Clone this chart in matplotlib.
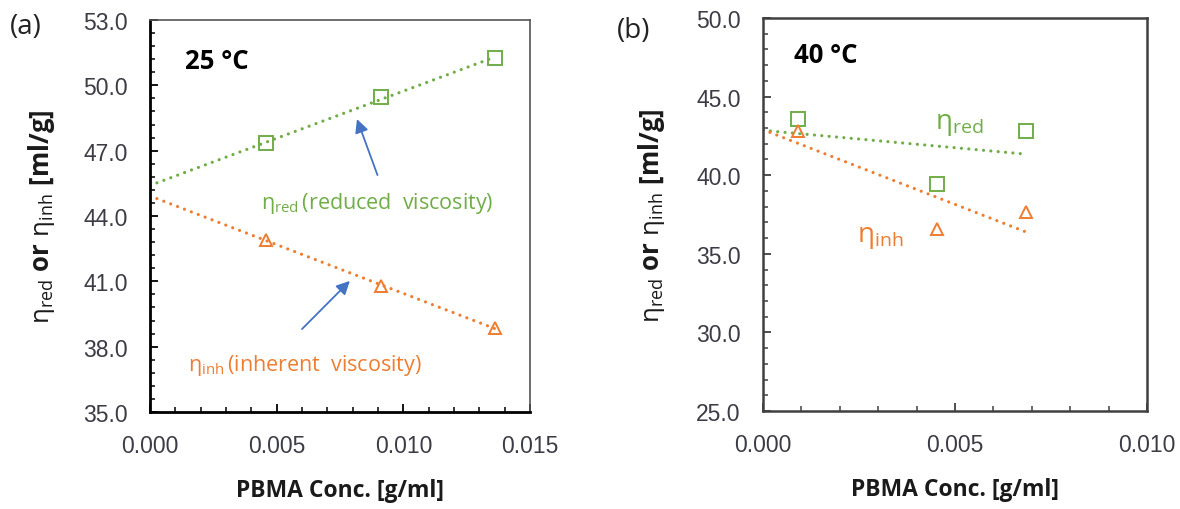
import numpy as np
import matplotlib
matplotlib.use("Agg")
import matplotlib.pyplot as plt
from matplotlib.ticker import FixedLocator, FormatStrFormatter

# Reduced / inherent viscosity of PBMA solutions
conc_25 = [0.00457, 0.00910, 0.01362]
eta_red_25 = [47.33, 49.45, 51.25]
eta_inh_25 = [42.90, 40.80, 38.85]

conc_40 = [0.00091, 0.00454, 0.00685]
eta_red_40 = [43.60, 39.41, 42.83]
eta_inh_40 = [42.82, 36.55, 37.63]

GREEN = "#70AD47"
ORANGE = "#ED7D31"
BLUE = "#4472C4"
TICK_COL = "#3c3c46"

plt.rcParams["font.family"] = ["Liberation Sans", "DejaVu Sans"]
plt.rcParams["mathtext.fontset"] = "custom"
plt.rcParams["mathtext.rm"] = "Open Sans"
plt.rcParams["mathtext.bf"] = "Open Sans:bold"
plt.rcParams["mathtext.it"] = "Open Sans:italic"
plt.rcParams["mathtext.sf"] = "Open Sans"

fig = plt.figure(figsize=(11.8, 5.1), dpi=100)
ax1 = fig.add_axes([150 / 1180, 1 - 413 / 510, 380 / 1180, 392 / 510])
ax2 = fig.add_axes([763 / 1180, 1 - 412 / 510, 384 / 1180, 393 / 510])

DOTS = (0, (0.01, 2.3))


def fit_line(ax, x, y, color):
    slope, icpt = np.polyfit(x, y, 1)
    xs = np.array([0.0, max(x)])
    ax.plot(xs, icpt + slope * xs, linestyle=DOTS, color=color, lw=2.3,
            dash_capstyle="round", zorder=2)


def draw_series(ax, x, red, inh):
    fit_line(ax, x, red, GREEN)
    fit_line(ax, x, inh, ORANGE)
    ax.plot(x, red, linestyle="none", marker="s", ms=9.8, mfc="none",
            mec=GREEN, mew=1.4, zorder=3)
    ax.plot(x, inh, linestyle="none", marker="^", ms=8.5, mfc="none",
            mec=ORANGE, mew=1.4, zorder=3)


def style_axes(ax, xlim, ylim, xstep, xminor, ystep, yminor, spine_main,
               spine_other, w_main, w_other, ylabelpad):
    ax.set_xlim(*xlim)
    ax.set_ylim(*ylim)
    ax.xaxis.set_major_locator(FixedLocator(np.arange(xlim[0], xlim[1] + 1e-9, xstep)))
    ax.xaxis.set_minor_locator(FixedLocator(np.arange(xlim[0], xlim[1] + 1e-9, xminor)))
    ax.yaxis.set_major_locator(FixedLocator(np.arange(ylim[0], ylim[1] + 1e-9, ystep)))
    ax.yaxis.set_minor_locator(FixedLocator(np.arange(ylim[0], ylim[1] + 1e-9, yminor)))
    ax.xaxis.set_major_formatter(FormatStrFormatter("%.3f"))
    ax.yaxis.set_major_formatter(FormatStrFormatter("%.1f"))
    for side in ("left", "bottom"):
        ax.spines[side].set_color(spine_main)
        ax.spines[side].set_linewidth(w_main)
    for side in ("top", "right"):
        ax.spines[side].set_color(spine_other)
        ax.spines[side].set_linewidth(w_other)
    ax.tick_params(which="both", direction="in", top=False, right=False,
                   color=spine_main, labelsize=16.5, labelcolor=TICK_COL,
                   pad=16)
    ax.tick_params(which="major", length=6, width=1.3)
    ax.tick_params(which="minor", length=3.5, width=1.1)
    ax.set_xlabel("PBMA Conc. [g/ml]", fontsize=16.5, fontweight="bold",
                  family=["Open Sans", "DejaVu Sans"], color="#1a1a1a",
                  labelpad=15)
    ax.set_ylabel(r"$\mathrm{η}_{\mathrm{red}}\ \mathbf{or}\ \mathrm{η}_{\mathrm{inh}}\ \mathbf{[ml/g]}$",
                  fontsize=18.5, color="#1a1a1a", labelpad=ylabelpad)


# (a) 25 °C
draw_series(ax1, conc_25, eta_red_25, eta_inh_25)
style_axes(ax1, (0, 0.015), (35, 53), 0.005, 0.001, 3.0, 0.6,
           "black", "#555555", 2.0, 1.2, 19)
ax1.text(0.00140, 51.16, "25 °C", fontsize=18.5, fontweight="bold",
         family=["Open Sans", "DejaVu Sans"], ha="left", va="center")
ax1.text(0.00440, 44.64, r"$\mathrm{η}_{\mathrm{red}}\,$(reduced  viscosity)",
         fontsize=15.5, color=GREEN, ha="left", va="center",
         family=["Open Sans", "DejaVu Sans"])
ax1.text(0.00150, 37.20, r"$\mathrm{η}_{\mathrm{inh}}\,$(inherent  viscosity)",
         fontsize=15.5, color=ORANGE, ha="left", va="center",
         family=["Open Sans", "DejaVu Sans"])
arrow = dict(arrowstyle="-|>", color=BLUE, lw=1.3, mutation_scale=20,
             shrinkA=0, shrinkB=0)
ax1.annotate("", xy=(0.00817, 48.45), xytext=(0.00898, 45.88), arrowprops=arrow)
ax1.annotate("", xy=(0.00789, 41.02), xytext=(0.00600, 38.81), arrowprops=arrow)

# (b) 40 °C
draw_series(ax2, conc_40, eta_red_40, eta_inh_40)
style_axes(ax2, (0, 0.010), (25, 50), 0.005, 0.001, 5.0, 1.0,
           "#404040", "#404040", 1.8, 1.8, 21)
ax2.text(0.00082, 47.7, "40 °C", fontsize=18.5, fontweight="bold",
         family=["Open Sans", "DejaVu Sans"], ha="left", va="center")
ax2.text(0.00448, 43.26, r"$\mathrm{η}_{\mathrm{red}}$", fontsize=20,
         color=GREEN, ha="left", va="center")
ax2.text(0.00245, 36.07, r"$\mathrm{η}_{\mathrm{inh}}$", fontsize=20,
         color=ORANGE, ha="left", va="center")

fig.text(10 / 1180, 1 - 27.5 / 510, "(a)", fontsize=20, ha="left",
         va="center", family=["Open Sans", "DejaVu Sans"], color="#222222")
fig.text(617 / 1180, 1 - 31 / 510, "(b)", fontsize=20, ha="left",
         va="center", family=["Open Sans", "DejaVu Sans"], color="#222222")

fig.savefig("out.png", dpi=100)
